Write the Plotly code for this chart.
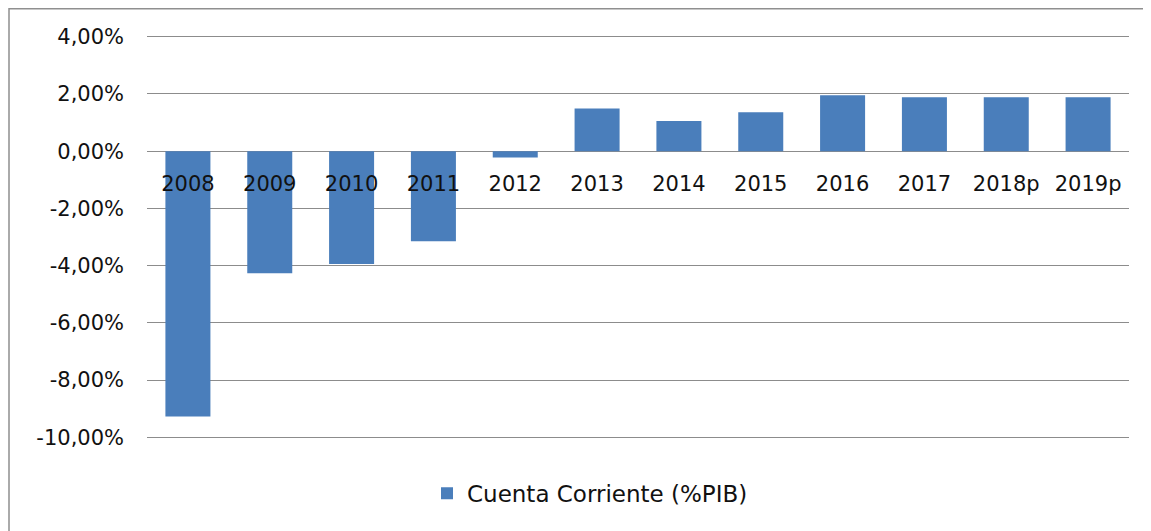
import plotly.graph_objects as go

categories = ["2008", "2009", "2010", "2011", "2012", "2013", "2014", "2015", "2016", "2017", "2018p", "2019p"]
values = [-9.27, -4.27, -3.94, -3.15, -0.22, 1.49, 1.05, 1.36, 1.95, 1.88, 1.88, 1.88]
tick_vals = [4, 2, 0, -2, -4, -6, -8, -10]
tick_text = ["4,00%", "2,00%", "0,00%", "-2,00%", "-4,00%", "-6,00%", "-8,00%", "-10,00%"]
series_name = "Cuenta Corriente (%PIB)"

W, H = 1151, 531
ymin, ymax = -10.06, 4.06
# plot area in figure coordinates (page offset of 8px by body margin)
L, T = 139, 29 - 0.06 / 14 * 400
pr, pb = 1121, 429 + 0.06 / 14 * 400
R, B = W - pr, H - pb
pw = W - L - R
ph = H - T - B

font = dict(family="DejaVu Sans, Verdana, sans-serif", size=21, color="#111111")
legend_font = dict(family="DejaVu Sans, Verdana, sans-serif", size=23, color="#111111")

fig = go.Figure()
fig.add_trace(go.Bar(x=categories, y=values, name=series_name,
                     marker=dict(color="#4A7EBB", line=dict(width=0)),
                     width=0.55, showlegend=True))

fig.update_layout(
    width=W, height=H,
    margin=dict(l=L, r=R, t=T, b=B, pad=0, autoexpand=False),
    paper_bgcolor="white", plot_bgcolor="white",
    font=font,
    showlegend=True,
    legend=dict(orientation="h", x=(419 - L) / pw, xanchor="left",
                y=(T + ph - 485) / ph, yanchor="middle",
                font=legend_font, bgcolor="rgba(0,0,0,0)", itemwidth=30),
    xaxis=dict(type="category", anchor="free", position=(0 - ymin) / (ymax - ymin),
               showline=False, showgrid=False, ticks="", tickfont=font,
               ticklabelstandoff=18, zeroline=False),
    yaxis=dict(range=[ymin, ymax], tickvals=tick_vals, ticktext=tick_text,
               showgrid=True, gridcolor="#8c8c8c", gridwidth=1,
               zeroline=True, zerolinecolor="#8c8c8c", zerolinewidth=1,
               showline=False, ticks="", tickfont=font, ticklabelstandoff=22),
)

# outer chart frame at the figure edge
fig.add_shape(type="rect", xref="paper", yref="paper",
              x0=(1 - L) / pw, x1=(W + 20 - L) / pw,
              y0=(T + ph - (H + 20)) / ph, y1=(T + ph - 1) / ph,
              line=dict(color="#8f8f8f", width=1.5), fillcolor="rgba(0,0,0,0)", layer="below")

fig.write_html("out.html")
